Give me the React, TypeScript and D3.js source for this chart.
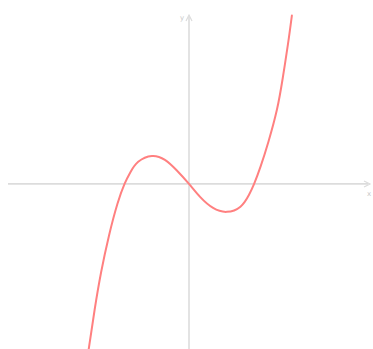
import React, { useMemo } from 'react';
import * as d3 from 'd3';

// points, in axis units (1 unit ~ 65px)
const xs = [-1.54, -1.45, -1.35, -1.23, -1.1, -0.99, -0.9, -0.78, -0.57, -0.37, -0.19, 0, 0.17, 0.37, 0.58, 0.79, 0.92, 1.0, 1.1, 1.22, 1.35, 1.44, 1.52, 1.58];
const ys = [-2.54, -1.94, -1.36, -0.8, -0.31, 0, 0.18, 0.34, 0.43, 0.37, 0.21, 0, -0.2, -0.37, -0.43, -0.35, -0.17, 0, 0.27, 0.65, 1.14, 1.63, 2.15, 2.59];

const xDomain = [-2.78, 2.78];
const yDomain = [-2.54, 2.83];
const axisLabels = ['x', 'y'];

const W = 373;
const H = 349;

export default function App() {
  const x = d3.scaleLinear().domain(xDomain).range([8, 370]);
  const y = d3.scaleLinear().domain(yDomain).range([H, 0]);

  const path = useMemo(() => {
    const line = d3.line<number>()
      .x((_, i) => x(xs[i]))
      .y((_, i) => y(ys[i]))
      .curve(d3.curveNatural);
    return line(xs) || '';
  }, []);

  const x0 = x(0);
  const y0 = y(0);
  const axisColor = '#dcdcdc';

  return (
    <svg width={W} height={H} style={{ position: 'absolute', left: 0, top: 0 }}>
      {/* x axis */}
      <line x1={x(xDomain[0])} x2={x(xDomain[1]) - 2} y1={y0} y2={y0} stroke={axisColor} strokeWidth={1.6} />
      <path d={`M${x(xDomain[1]) - 6},${y0 - 3} L${x(xDomain[1])},${y0} L${x(xDomain[1]) - 6},${y0 + 3}`} fill="none" stroke={axisColor} strokeWidth={1.2} />
      <text x={x(xDomain[1]) - 1} y={y0 + 12} fontSize={7} fill="#c8c8c8" fontFamily="DejaVu Sans" textAnchor="middle">{axisLabels[0]}</text>
      {/* y axis */}
      <line x1={x0} x2={x0} y1={H} y2={17} stroke={axisColor} strokeWidth={1.6} />
      <path d={`M${x0 - 3},${21} L${x0},${15} L${x0 + 3},${21}`} fill="none" stroke={axisColor} strokeWidth={1.2} />
      <text x={x0 - 7} y={20} fontSize={7} fill="#c8c8c8" fontFamily="DejaVu Sans" textAnchor="middle">{axisLabels[1]}</text>
      {/* curve */}
      <path d={path} fill="none" stroke="#ff8080" strokeWidth={2} strokeLinecap="round" />
    </svg>
  );
}
